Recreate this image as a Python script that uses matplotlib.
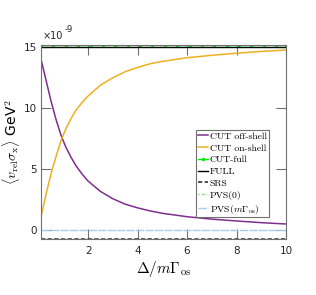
import numpy as np
import matplotlib.pyplot as plt

plt.rcParams['mathtext.fontset'] = 'cm'
plt.rcParams['font.family'] = ['DejaVu Sans']

# values (units of 1e-9 GeV^-2)
x_pts = [0.1, 0.3, 0.5, 0.7, 0.9, 1.1, 1.3, 1.5, 1.75, 2.0, 2.5, 3.0, 3.5,
         4.0, 4.5, 5.0, 6.0, 7.0, 8.0, 9.0, 10.0]
off_shell = [14.0, 12.3, 10.6, 9.1, 7.8, 6.8, 6.0, 5.3, 4.6, 4.0, 3.15, 2.55, 2.1,
             1.8, 1.55, 1.35, 1.07, 0.87, 0.72, 0.58, 0.47]
on_shell = [1.1, 2.9, 4.6, 6.0, 7.3, 8.3, 9.1, 9.8, 10.45, 11.0, 11.9, 12.5, 13.0,
            13.35, 13.65, 13.85, 14.15, 14.35, 14.52, 14.67, 14.78]
x_full = [0.1, 0.6, 1.1, 1.6, 2.1, 2.6, 3.1, 3.6, 4.1, 4.6, 5.1, 5.6, 6.1, 6.6,
          7.1, 7.6, 8.1, 8.6, 9.1, 9.6, 10.0]
cut_full = 15.19
full = 15.05
srs = -0.74
pvs0 = -0.74
pvs_m = 0.0

scale = 1e-9
c_grey = '#707070'

fig = plt.figure(figsize=(3.16, 2.95), dpi=100)
ax = fig.add_axes([0.13, 0.19, 0.775, 0.658])

ax.plot(x_pts, np.array(off_shell) * scale, color='#7E2F8E', lw=1.1, label='CUT off-shell')
ax.plot(x_pts, np.array(on_shell) * scale, color='#EDB120', lw=1.1, label='CUT on-shell')
ax.plot(x_full, [cut_full * scale] * len(x_full), color='#00EE00', lw=1.0,
        marker='.', ms=3, label='CUT-full')
ax.plot([0.1, 10], [full * scale] * 2, color='k', lw=1.0, label='FULL')
ax.plot([0.1, 10], [srs * scale] * 2, color='#333333', lw=1.2, ls=(0, (2.5, 1.5)), label='SRS')
ax.plot([0.1, 10], [pvs0 * scale] * 2, color='#8FE08F', lw=1.0, ls=(1.5, (2.5, 1.5)), label='PVS(0)')
ax.plot([0.1, 10], [pvs_m * scale] * 2, color='#A8CDEB', lw=1.0, ls=(0, (6, 0.8)),
        label=r'PVS($m\Gamma_{\rm os}$)')

ax.set_xlim(0.1, 10)
ax.set_ylim(-0.76 * scale, 15.21 * scale)
ax.set_xticks([2, 4, 6, 8, 10])
ax.set_yticks(np.array([0, 5, 10, 15]) * scale)
ax.set_yticklabels(['0', '5', '10', '15'])
ax.tick_params(direction='in', length=7, width=0.8, colors=c_grey, labelcolor='#262626',
               labelsize=7.5, top=True, right=True, pad=3)
ax.tick_params(axis='x', pad=5)
for s in ax.spines.values():
    s.set_color(c_grey)
    s.set_linewidth(0.8)

ax.text(0.006, 1.02, '×10', transform=ax.transAxes, fontsize=7,
        color='#262626', ha='left', va='bottom')
ax.text(0.094, 1.055, '-9', transform=ax.transAxes, fontsize=6,
        color='#262626', ha='left', va='bottom')
ax.set_xlabel(r'$\Delta/m\Gamma_{\rm os}$', fontsize=11, labelpad=2)
ax.set_ylabel(r'$\langle v_{\rm rel}\sigma_{\rm x}\rangle$ GeV$^2$', fontsize=10, labelpad=1)

leg = ax.legend(loc='upper left', bbox_to_anchor=(0.633, 0.561),
                prop={'family': 'cmr10', 'size': 7}, handlelength=1.0,
                handletextpad=0.2, labelspacing=0.3, borderpad=0.2,
                borderaxespad=0, fancybox=False, framealpha=1)
leg.get_frame().set_edgecolor(c_grey)
leg.get_frame().set_linewidth(0.8)

plt.savefig('out.png', dpi=100)
